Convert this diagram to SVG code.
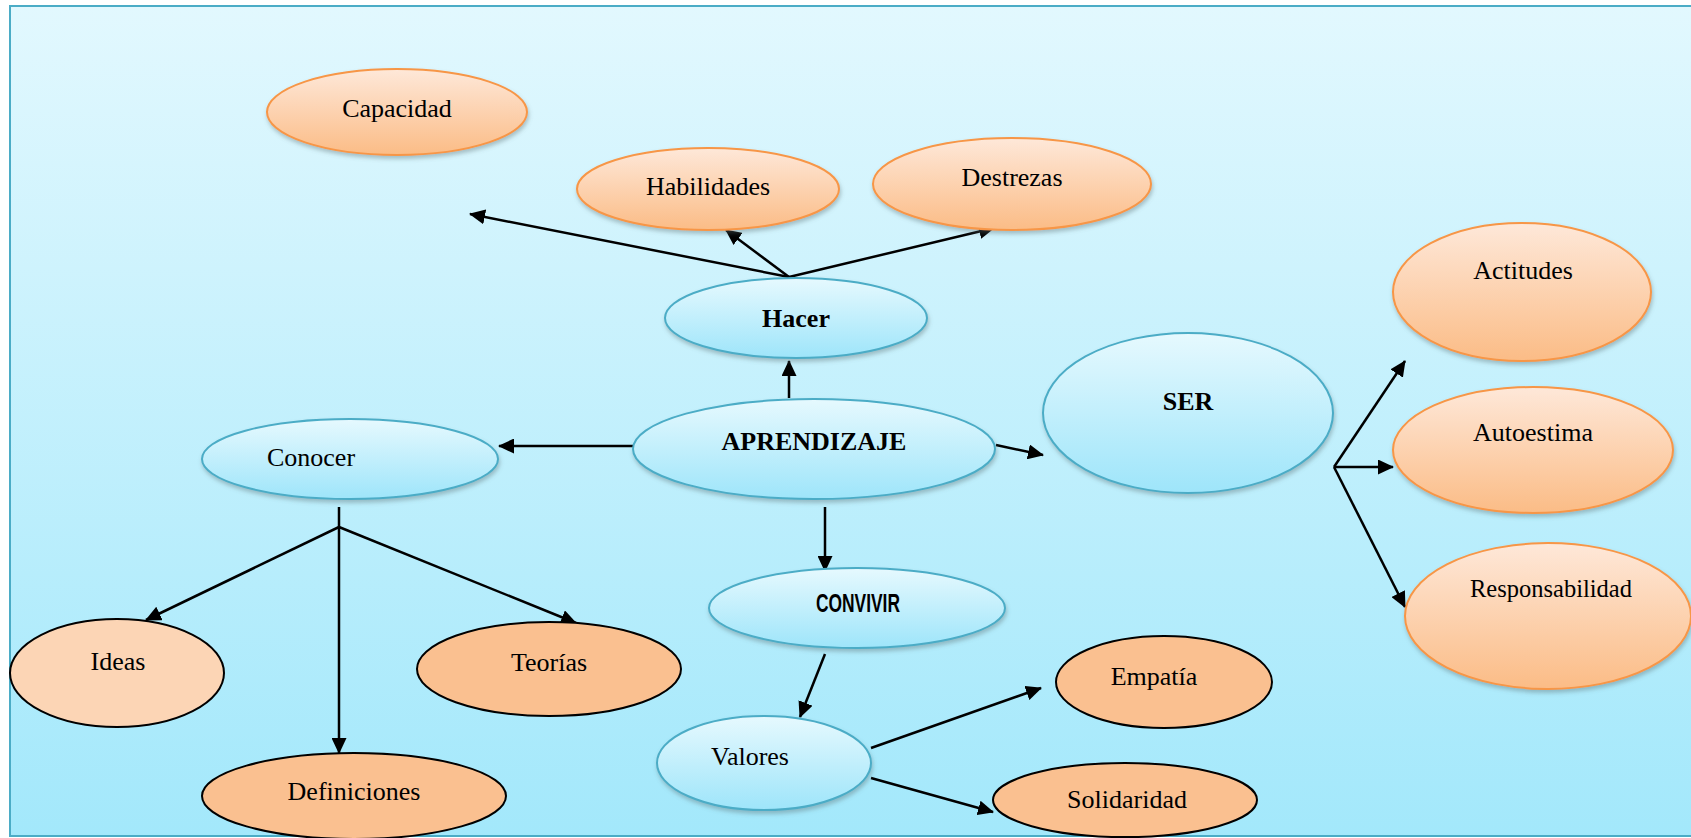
<svg xmlns="http://www.w3.org/2000/svg" width="1691" height="838" viewBox="0 0 1691 838">
  <defs>
    <linearGradient id="bg" x1="0" y1="0" x2="0" y2="1">
      <stop offset="0" stop-color="#E2F8FE"/>
      <stop offset="1" stop-color="#A3E8FB"/>
    </linearGradient>
    <linearGradient id="blueFill" x1="0" y1="0" x2="0" y2="1">
      <stop offset="0" stop-color="#E6F9FE"/>
      <stop offset="1" stop-color="#9EE5FA"/>
    </linearGradient>
    <linearGradient id="orangeFill" x1="0" y1="0" x2="0" y2="1">
      <stop offset="0" stop-color="#FEE8D9"/>
      <stop offset="1" stop-color="#FBBC86"/>
    </linearGradient>
    <filter id="shadow" x="-10%" y="-15%" width="125%" height="140%">
      <feDropShadow dx="1" dy="3" stdDeviation="2" flood-color="#5a6a70" flood-opacity="0.4"/>
    </filter>
    <marker id="arrow" markerWidth="16" markerHeight="15" refX="15" refY="7.5" orient="auto" markerUnits="userSpaceOnUse">
      <path d="M0,0 L16,7.5 L0,15 Z" fill="#000"/>
    </marker>
    <style>
      .blue { fill: url(#blueFill); stroke: #4BACC6; stroke-width: 2; filter: url(#shadow); }
      .orange { fill: url(#orangeFill); stroke: #F79646; stroke-width: 2; filter: url(#shadow); }
      .flat { fill: #FAC090; stroke: #000; stroke-width: 2; }
      .flatLight { fill: #FCD5B5; stroke: #000; stroke-width: 2; }
      .label { font-family: "Liberation Serif", "Times New Roman", serif; font-size: 26px; fill: #000; text-anchor: middle; }
      .bold { font-weight: bold; }
      .narrow { font-family: "Liberation Sans", Arial, sans-serif; font-weight: bold; font-size: 25px; }
      .edge { stroke: #000; stroke-width: 2.5; fill: none; }
      .edge.arr { marker-end: url(#arrow); }
    </style>
  </defs>

  <!-- canvas -->
  <rect x="0" y="0" width="1691" height="838" fill="#FFFFFF"/>
  <rect x="10" y="6" width="1700" height="830" fill="url(#bg)" stroke="#4BACC6" stroke-width="2"/>

  <!-- connectors -->
  <g id="connectors">
    <line class="edge arr" x1="789" y1="277" x2="470" y2="214"/>
    <line class="edge arr" x1="789" y1="277" x2="726" y2="230"/>
    <line class="edge arr" x1="789" y1="277" x2="994" y2="228"/>
    <line class="edge arr" x1="789" y1="398" x2="789" y2="361"/>
    <line class="edge arr" x1="633" y1="446" x2="499" y2="446"/>
    <line class="edge arr" x1="996" y1="445" x2="1043" y2="455"/>
    <line class="edge arr" x1="825" y1="507" x2="825" y2="571"/>
    <line class="edge" x1="339" y1="507" x2="339" y2="527"/>
    <line class="edge arr" x1="339" y1="527" x2="146" y2="620"/>
    <line class="edge arr" x1="339" y1="527" x2="339" y2="753"/>
    <line class="edge arr" x1="339" y1="527" x2="576" y2="623"/>
    <line class="edge arr" x1="1334" y1="467" x2="1405" y2="361"/>
    <line class="edge arr" x1="1334" y1="467" x2="1393" y2="467"/>
    <line class="edge arr" x1="1334" y1="467" x2="1405" y2="607"/>
    <line class="edge arr" x1="825" y1="654" x2="800" y2="717"/>
    <line class="edge arr" x1="871" y1="748" x2="1041" y2="688"/>
    <line class="edge arr" x1="871" y1="778" x2="993" y2="812"/>
  </g>

  <!-- nodes -->
  <g id="capacidad">
    <ellipse class="orange" cx="397" cy="112" rx="130" ry="43"/>
    <text class="label" x="397" y="117">Capacidad</text>
  </g>
  <g id="habilidades">
    <ellipse class="orange" cx="708" cy="189" rx="131" ry="41"/>
    <text class="label" x="708" y="195">Habilidades</text>
  </g>
  <g id="destrezas">
    <ellipse class="orange" cx="1012" cy="184" rx="139" ry="46"/>
    <text class="label" x="1012" y="186">Destrezas</text>
  </g>
  <g id="hacer">
    <ellipse class="blue" cx="796" cy="318" rx="131" ry="40"/>
    <text class="label bold" x="796" y="327">Hacer</text>
  </g>
  <g id="aprendizaje">
    <ellipse class="blue" cx="814" cy="449" rx="181" ry="50"/>
    <text class="label bold" x="814" y="450">APRENDIZAJE</text>
  </g>
  <g id="conocer">
    <ellipse class="blue" cx="350" cy="459" rx="148" ry="40"/>
    <text class="label" x="311" y="466">Conocer</text>
  </g>
  <g id="ser">
    <ellipse class="blue" cx="1188" cy="413" rx="145" ry="80"/>
    <text class="label bold" x="1188" y="410">SER</text>
  </g>
  <g id="actitudes">
    <ellipse class="orange" cx="1522" cy="292" rx="129" ry="69"/>
    <text class="label" x="1523" y="279">Actitudes</text>
  </g>
  <g id="autoestima">
    <ellipse class="orange" cx="1533" cy="450" rx="140" ry="63"/>
    <text class="label" x="1533" y="441">Autoestima</text>
  </g>
  <g id="responsabilidad">
    <ellipse class="orange" cx="1548" cy="616" rx="143" ry="73"/>
    <text class="label" x="1551" y="597" style="font-size:24.5px">Responsabilidad</text>
  </g>
  <g id="convivir">
    <ellipse class="blue" cx="857" cy="608" rx="148" ry="40"/>
    <text class="label narrow" x="858" y="612" textLength="84" lengthAdjust="spacingAndGlyphs">CONVIVIR</text>
  </g>
  <g id="valores">
    <ellipse class="blue" cx="764" cy="763" rx="107" ry="47"/>
    <text class="label" x="750" y="765">Valores</text>
  </g>
  <g id="empatia">
    <ellipse class="flat" cx="1164" cy="682" rx="108" ry="46"/>
    <text class="label" x="1154" y="685">Empatía</text>
  </g>
  <g id="solidaridad">
    <ellipse class="flat" cx="1125" cy="800" rx="132" ry="37"/>
    <text class="label" x="1127" y="808">Solidaridad</text>
  </g>
  <g id="ideas">
    <ellipse class="flatLight" cx="117" cy="673" rx="107" ry="54"/>
    <text class="label" x="118" y="670">Ideas</text>
  </g>
  <g id="teorias">
    <ellipse class="flat" cx="549" cy="669" rx="132" ry="47"/>
    <text class="label" x="549" y="671">Teorías</text>
  </g>
  <g id="definiciones">
    <ellipse class="flat" cx="354" cy="796" rx="152" ry="43"/>
    <text class="label" x="354" y="800">Definiciones</text>
  </g>
</svg>
